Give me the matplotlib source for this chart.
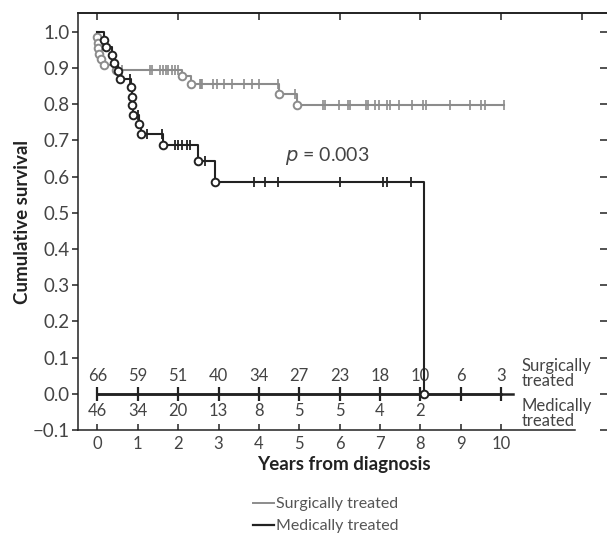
import numpy as np
import matplotlib.pyplot as plt
from matplotlib.lines import Line2D

plt.rcParams['font.family'] = ['Lato', 'DejaVu Sans']

# surgically treated: death times and survival after each death, censor times
surg_death_t = [0.0, 0.01, 0.02, 0.04, 0.09, 0.17, 0.45, 2.09, 2.32, 4.50, 4.94]
surg_surv = [0.985, 0.970, 0.955, 0.939, 0.924, 0.909, 0.894, 0.877, 0.857, 0.827, 0.797]
surg_cens = [0.62, 1.30, 1.36, 1.55, 1.62, 1.70, 1.76, 1.84, 1.92, 1.99,
             2.54, 2.57, 2.60, 2.87, 2.97, 3.14, 3.34, 3.64, 3.82, 4.01, 4.47, 4.89,
             5.58, 5.63, 5.99, 6.22, 6.26, 6.66, 6.71, 6.88, 6.98, 7.17, 7.25, 7.47,
             7.79, 8.06, 8.14, 8.74, 9.23, 9.50, 9.60, 10.08]

# medically treated
med_death_t = [0.16, 0.21, 0.35, 0.42, 0.50, 0.56, 0.82, 0.85, 0.86, 0.87,
               1.03, 1.08, 1.62, 2.50, 2.91, 8.09]
med_surv = [0.978, 0.957, 0.935, 0.913, 0.891, 0.870, 0.848, 0.820, 0.797, 0.771,
            0.744, 0.718, 0.686, 0.642, 0.584, 0.0]
med_cens = [0.80, 1.01, 1.22, 1.59, 1.92, 2.00, 2.10, 2.21, 2.29, 2.66,
            3.89, 4.15, 4.48, 6.01, 7.07, 7.17, 7.76]

# numbers at risk
years = np.arange(0, 11)
surg_risk = [66, 59, 51, 40, 34, 27, 23, 18, 10, 6, 3]
med_risk = [46, 34, 20, 13, 8, 5, 5, 4, 2]

gray = "#8c8c8c"
black = "#222222"
txt = "#444444"


def level_at(death_t, surv, t):
    full = np.concatenate([[1.0], surv])
    return full[np.searchsorted(death_t, t, side="right")]


fig = plt.figure(figsize=(6.07, 5.43), dpi=100)
ax = fig.add_axes([78 / 607, 113 / 543, (609 - 78) / 607, (430 - 13) / 543])

# surgically treated curve
sx = [0.0] + surg_death_t + [surg_cens[-1]]
sy = [1.0] + surg_surv + [surg_surv[-1]]
ax.step(sx, sy, where="post", color=gray, lw=1.5, zorder=2)
ax.plot(surg_death_t, surg_surv, "o", ms=5.5, mfc="white", mec=gray, mew=1.4, zorder=3)
ax.plot(surg_cens, level_at(surg_death_t, surg_surv, surg_cens), "|", ms=7,
        mew=1.2, color=gray, zorder=3)

# medically treated curve
mx = [0.0] + med_death_t
my = [1.0] + med_surv
ax.step(mx, my, where="post", color=black, lw=1.5, zorder=4)
ax.plot(med_cens, level_at(med_death_t, med_surv, med_cens), "|", ms=7,
        mew=1.3, color=black, zorder=5)

# risk table line
ax.plot(years, np.zeros(len(years)), "-|", color=black, lw=1.8, ms=10, mew=1.6, zorder=4)
ax.plot([0, 10.3], [0, 0], color=black, lw=1.8, zorder=4)
ax.plot(med_death_t, med_surv, "o", ms=5.5, mfc="white", mec=black, mew=1.4, zorder=6)

for x, n in zip(years, surg_risk):
    ax.text(x, 0.048, str(n), ha="center", va="center", fontsize=12, color=txt)
for x, n in zip(years, med_risk):
    ax.text(x, -0.048, str(n), ha="center", va="center", fontsize=12, color=txt)
ax.text(10.51, 0.056, "Surgically\ntreated", ha="left", va="center", fontsize=12,
        color=txt, linespacing=0.95)
ax.text(10.51, -0.054, "Medically\ntreated", ha="left", va="center", fontsize=12,
        color=txt, linespacing=0.95)

ax.text(4.65, 0.656, "$\\it{p}$ = 0.003", ha="left", va="center", fontsize=14, color=txt)

ax.set_xlim(-0.483, 12.68)
ax.set_ylim(-0.1, 1.052)
ax.set_xticks(years)
yt = np.round(np.arange(-0.1, 1.01, 0.1), 1)
ax.set_yticks(yt)
ax.set_yticklabels([f"{v:.1f}".replace("-", "\u2212") for v in yt])
ax.tick_params(axis="x", direction="in", length=4.5, width=1.1, colors=black,
               labelcolor=txt, labelsize=12, pad=4)
ax.tick_params(axis="y", direction="out", length=4, width=1.1, colors=black,
               labelcolor=txt, labelsize=13.5, pad=2)

for s in ["left", "bottom", "top", "right"]:
    ax.spines[s].set_color(black)
    ax.spines[s].set_linewidth(1.1)
ax.spines["bottom"].set_bounds(-0.483, 11.83)

top = ax.secondary_xaxis("top")
top.set_xticks(np.arange(0, 13, 2))
top.set_xticklabels([])
top.tick_params(direction="in", length=5, width=1.1, colors=black)
top.spines["top"].set_linewidth(1.1)

right = ax.secondary_yaxis("right")
right.set_yticks(yt)
right.set_yticklabels([])
right.tick_params(direction="in", length=6.5, width=1.1, colors=black)

ax.set_xlabel("Years from diagnosis", fontsize=13.5, fontweight="bold", color="#222222", labelpad=3)
ax.set_ylabel("Cumulative survival", fontsize=13.5, fontweight="bold", color="#222222", labelpad=1)

handles = [Line2D([], [], color=gray, lw=1.4), Line2D([], [], color=black, lw=1.6)]
fig.legend(handles, ["Surgically treated", "Medically treated"], loc="upper left",
           bbox_to_anchor=(245 / 607, 1 - 489 / 543), frameon=False, fontsize=11.5,
           handlelength=1.3, handletextpad=0.15, labelspacing=0.5, borderpad=0,
           labelcolor="#555555")

fig.savefig("out.png", dpi=100)
